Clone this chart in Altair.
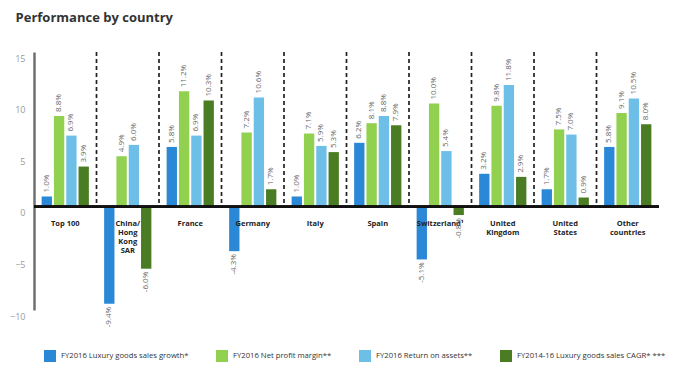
import altair as alt
import pandas as pd

categories = ["Top 100", "China/Hong Kong SAR", "France", "Germany", "Italy",
              "Spain", "Switzerland¹", "United Kingdom", "United States", "Other countries"]
category_labels = ["Top 100", "China/\nHong\nKong\nSAR", "France", "Germany", "Italy",
                   "Spain", "Switzerland¹", "United\nKingdom", "United\nStates", "Other\ncountries"]
series = ["FY2016 Luxury goods sales growth*", "FY2016 Net profit margin**",
          "FY2016 Return on assets**", "FY2014-16 Luxury goods sales CAGR* ***"]
sales_growth = [1.0, -9.4, 5.8, -4.3, 1.0, 6.2, -5.1, 3.2, 1.7, 5.8]
net_margin = [8.8, 4.9, 11.2, 7.2, 7.1, 8.1, 10.0, 9.8, 7.5, 9.1]
return_on_assets = [6.9, 6.0, 6.9, 10.6, 5.9, 8.8, 5.4, 11.8, 7.0, 10.5]
cagr = [3.9, -6.0, 10.3, 1.7, 5.3, 7.9, -0.8, 2.9, 0.9, 8.0]
colors = ["#2b88d6", "#92d050", "#6dbfe8", "#4a7d23"]
y_ticks = [-10, -5, 0, 5, 10, 15]

rows = []
for s, vals in zip(series, [sales_growth, net_margin, return_on_assets, cagr]):
    for c, v in zip(categories, vals):
        rows.append({"cat": c, "series": s, "value": v, "label": f"{v:.1f}%"})
df = pd.DataFrame(rows)
cat_df = pd.DataFrame({"cat": categories, "text": category_labels})
div_df = pd.DataFrame({"cat": categories[1:]})

FONT = "Open Sans"
xscale = alt.Scale(domain=categories, paddingInner=0, paddingOuter=0)
yscale = alt.Scale(domain=[-10, 15], nice=False, zero=False)

x_enc = alt.X("cat:N", scale=xscale, axis=None, title=None)
xoff = alt.XOffset("series:N", scale=alt.Scale(domain=series, paddingInner=0.16, paddingOuter=0.62))
y_enc = alt.Y("value:Q", scale=yscale, title=None,
              axis=alt.Axis(values=y_ticks, grid=False, ticks=False, domainColor="#707070",
                            domainWidth=2.5, labelColor="#999999", labelFontSize=9,
                            labelFont=FONT, labelOffset=6, labelPadding=9))

bars = alt.Chart(df).mark_bar().encode(
    x=x_enc, xOffset=xoff, y=y_enc,
    color=alt.Color("series:N", scale=alt.Scale(domain=series, range=colors),
                    legend=alt.Legend(title=None, orient="none", legendX=10, legendY=298,
                                      direction="horizontal", columns=4, symbolType="square",
                                      symbolSize=144, symbolStrokeWidth=0, labelFontSize=7.7,
                                      labelFont=FONT, labelColor="#333333", labelOffset=5,
                                      columnPadding=27, labelLimit=300)),
)

pos_labels = alt.Chart(df).transform_filter("datum.value >= 0").mark_text(
    angle=270, align="left", baseline="middle", dx=4, fontSize=8, font=FONT, color="#666666"
).encode(x=x_enc, xOffset=xoff, y=alt.Y("value:Q", scale=yscale), text="label:N")

neg_labels = alt.Chart(df).transform_filter("datum.value < 0").mark_text(
    angle=270, align="right", baseline="middle", dx=-3, fontSize=8, font=FONT, color="#666666"
).encode(x=x_enc, xOffset=xoff, y=alt.Y("value:Q", scale=yscale), text="label:N")

dividers = alt.Chart(div_df).mark_rule(color="#222222", strokeWidth=1.7, strokeDash=[4, 3]).encode(
    x=alt.X("cat:N", scale=xscale, axis=None, bandPosition=0),
    y=alt.datum(15), y2=alt.datum(0),
)

zero_line = alt.Chart(cat_df).mark_rule(color="#111111", strokeWidth=2).encode(y=alt.datum(0))

cat_text = alt.Chart(cat_df).mark_text(
    baseline="top", align="center", dy=13, fontSize=7.5, fontWeight="bold", font=FONT,
    color="#222222", lineBreak="\n", lineHeight=9
).encode(x=alt.X("cat:N", scale=xscale, axis=None), y=alt.datum(0), text="text:N")

chart = alt.layer(dividers, bars, zero_line, cat_text, pos_labels, neg_labels).properties(
    width=625, height=258,
    title=alt.TitleParams("Performance by country", anchor="start", fontSize=13, font=FONT,
                          fontWeight="bold", color="#333333", dx=6, offset=26),
    padding={"left": 1, "top": 4, "right": 5, "bottom": 5},
).configure_view(stroke=None)

chart.save("out.html", embed_options={"renderer": "svg", "actions": False})
